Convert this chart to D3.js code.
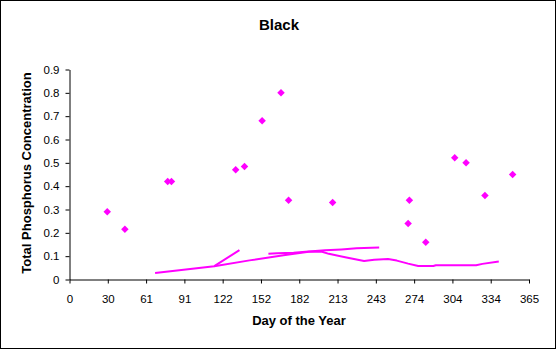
<!DOCTYPE html>
<html>
<head>
<meta charset="utf-8">
<script src="https://cdn.jsdelivr.net/npm/d3@7"></script>
<style>
  html, body { margin: 0; padding: 0; background: #fff; }
  svg { display: block; }
  text { font-family: "Liberation Sans", Arial, sans-serif; }
</style>
</head>
<body>
<svg id="chart" width="556" height="349"></svg>
<script>
// ---- data ----
const title = "Black";
const xTitle = "Day of the Year";
const yTitle = "Total Phosphorus Concentration";

const sampleDays = [30, 44, 78, 81, 132, 139, 153, 168, 174, 209, 270, 269, 283, 306, 315, 330, 352];
const sampleTP   = [0.29, 0.215, 0.42, 0.42, 0.47, 0.484, 0.68, 0.80, 0.34, 0.33, 0.34, 0.24, 0.16, 0.522, 0.50, 0.36, 0.45];

const lineADays = [68, 115, 135];
const lineAVals = [0.028, 0.057, 0.126];

const lineBDays = [115, 143, 170, 190, 200, 206, 220, 234, 242, 253, 260, 269, 277, 289, 291, 323, 328, 341];
const lineBVals = [0.057, 0.082, 0.104, 0.119, 0.120, 0.110, 0.094, 0.079, 0.085, 0.088, 0.081, 0.068, 0.058, 0.058, 0.061, 0.061, 0.067, 0.077];

const lineCDays = [158, 165, 178, 190, 203, 216, 228, 246];
const lineCVals = [0.110, 0.113, 0.115, 0.120, 0.125, 0.129, 0.134, 0.137];

const xTickLabels = ["0", "30", "61", "91", "122", "152", "182", "213", "243", "274", "304", "334", "365"];
const yTickValues = [0, 0.1, 0.2, 0.3, 0.4, 0.5, 0.6, 0.7, 0.8, 0.9];

// ---- layout ----
const color = "#FF00FF";
const plotLeft = 69.5, plotRight = 529, plotTop = 69.5, plotBottom = 279.5;

const svg = d3.select("#chart");

// outer border
svg.append("rect")
  .attr("x", 0.5).attr("y", 0.5)
  .attr("width", 555).attr("height", 348)
  .attr("fill", "#fff").attr("stroke", "#000").attr("stroke-width", 1);

const x = d3.scaleLinear().domain([0, 365]).range([plotLeft, plotRight]);
const y = d3.scaleLinear().domain([0, 0.9]).range([plotBottom, plotTop]);

const xTickPos = xTickLabels.map((_, i) => i * 365 / 12);

// x axis
const gx = svg.append("g")
  .attr("transform", `translate(0,${plotBottom})`)
  .call(d3.axisBottom(x)
    .tickValues(xTickPos)
    .tickFormat((d, i) => xTickLabels[i])
    .tickSize(4)
    .tickSizeOuter(0)
    .tickPadding(11));
gx.select(".domain").attr("stroke", "#000");
gx.selectAll(".tick line").attr("stroke", "#000");
gx.selectAll(".tick text")
  .attr("font-size", "11.5px")
  .attr("font-family", "'Liberation Sans', Arial, sans-serif")
  .attr("fill", "#000");

// y axis
const gy = svg.append("g")
  .attr("transform", `translate(${plotLeft},0)`)
  .call(d3.axisLeft(y)
    .tickValues(yTickValues)
    .tickFormat(d => d === 0 ? "0" : d3.format(".1f")(d))
    .tickSize(4)
    .tickSizeOuter(0)
    .tickPadding(6));
gy.select(".domain").attr("stroke", "#000");
gy.selectAll(".tick line").attr("stroke", "#000");
gy.selectAll(".tick text")
  .attr("font-size", "11.5px")
  .attr("font-family", "'Liberation Sans', Arial, sans-serif")
  .attr("fill", "#000");

// lines
const line = d3.line().x(d => x(d[0])).y(d => y(d[1]));
const series = [
  d3.zip(lineADays, lineAVals),
  d3.zip(lineBDays, lineBVals),
  d3.zip(lineCDays, lineCVals)
];
svg.append("g").selectAll("path")
  .data(series)
  .join("path")
  .attr("d", line)
  .attr("fill", "none")
  .attr("stroke", color)
  .attr("stroke-width", 2)
  .attr("stroke-linejoin", "round");

// markers (diamonds)
const diamond = d3.symbol().type(d3.symbolSquare).size(28);
svg.append("g").selectAll("path")
  .data(d3.zip(sampleDays, sampleTP))
  .join("path")
  .attr("d", diamond)
  .attr("transform", d => `translate(${x(d[0])},${y(d[1])}) rotate(45)`)
  .attr("fill", color);

// titles
svg.append("text")
  .attr("x", 279).attr("y", 30)
  .attr("text-anchor", "middle")
  .attr("font-size", "15px").attr("font-weight", "bold")
  .text(title);

svg.append("text")
  .attr("x", 299).attr("y", 325)
  .attr("text-anchor", "middle")
  .attr("font-size", "13px").attr("font-weight", "bold")
  .text(xTitle);

svg.append("text")
  .attr("transform", "translate(31,173) rotate(-90)")
  .attr("text-anchor", "middle")
  .attr("font-size", "13px").attr("font-weight", "bold")
  .text(yTitle);
</script>
</body>
</html>
